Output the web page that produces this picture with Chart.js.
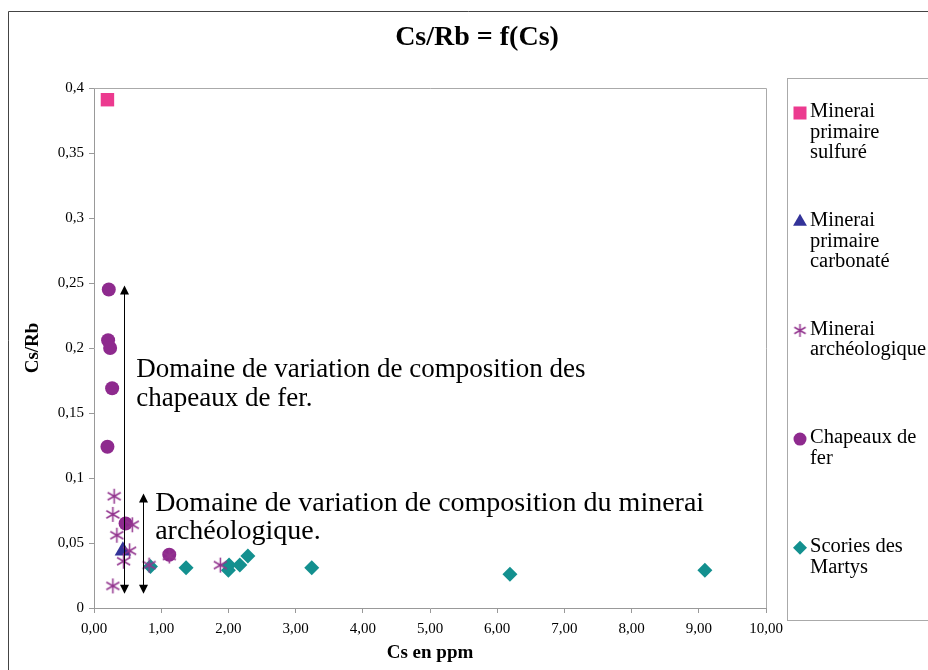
<!DOCTYPE html>
<html>
<head>
<meta charset="utf-8">
<script src="https://cdn.jsdelivr.net/npm/chart.js@4.4.1/dist/chart.umd.min.js"></script>
<style>
html, body { margin: 0; padding: 0; background: #fff; }
canvas { display: block; }
</style>
</head>
<body>
<canvas id="grafico-cs-rb" width="928" height="670"></canvas>
<script>
// valeurs (Cs en ppm, rapport Cs/Rb)
const sulfureCs = [0.20];
const sulfureRatio = [0.391];

const carbonateCs = [0.43];
const carbonateRatio = [0.044];

const archeoCs = [0.30, 0.28, 0.34, 0.57, 0.53, 0.44, 0.28, 0.82, 1.12, 1.88];
const archeoRatio = [0.086, 0.072, 0.056, 0.064, 0.044, 0.036, 0.017, 0.033, 0.040, 0.033];

const chapeauxCs = [0.22, 0.21, 0.24, 0.27, 0.20, 0.47, 1.12];
const chapeauxRatio = [0.245, 0.206, 0.200, 0.169, 0.124, 0.065, 0.041];

const scoriesCs = [0.84, 1.37, 2.01, 2.00, 2.17, 2.29, 3.24, 6.19, 9.09];
const scoriesRatio = [0.032, 0.031, 0.033, 0.029, 0.033, 0.040, 0.031, 0.026, 0.029];

const nomsSeries = [
    ["Minerai", "primaire", "sulfuré"],
    ["Minerai", "primaire", "carbonaté"],
    ["Minerai", "archéologique"],
    ["Chapeaux de", "fer"],
    ["Scories des", "Martys"]
];

// fleches doubles : x, y bas, y haut (unites des axes)
const flecheChapeaux = [0.45, 0.011, 0.248];
const flecheArcheo = [0.73, 0.011, 0.088];

const texteChapeaux = ["Domaine de variation de composition des", "chapeaux de fer."];
const texteArcheo = ["Domaine de variation de composition du minerai", "archéologique."];

const POLICE = "'Liberation Serif', 'Times New Roman', serif";

function enPoints(xs, ys) {
    return xs.map((x, i) => ({ x: x, y: ys[i] }));
}

function virgule(v, dec) {
    return v.toFixed(dec).replace(".", ",");
}

/* marqueur etoile facon Excel (X + trait vertical) */
function creerEtoile(taille, couleur) {
    const c = document.createElement("canvas");
    c.width = taille;
    c.height = taille;
    const ctx = c.getContext("2d");
    const m = taille / 2;
    const r = taille / 2 - 1;
    ctx.strokeStyle = couleur;
    ctx.lineWidth = 1.5;
    ctx.beginPath();
    ctx.moveTo(m, m - r); ctx.lineTo(m, m + r);
    ctx.moveTo(m - r * 0.87, m - r * 0.5); ctx.lineTo(m + r * 0.87, m + r * 0.5);
    ctx.moveTo(m - r * 0.87, m + r * 0.5); ctx.lineTo(m + r * 0.87, m - r * 0.5);
    ctx.stroke();
    return c;
}

const couleurEtoile = "#93358f";
const etoileGrande = creerEtoile(17, couleurEtoile);
const etoilePetite = creerEtoile(15, couleurEtoile);

const series = [
    { label: nomsSeries[0].join(" "), data: enPoints(sulfureCs, sulfureRatio), pointStyle: "rect", pointRadius: 9.5, backgroundColor: "#ec3a8f", order: 5 },
    { label: nomsSeries[1].join(" "), data: enPoints(carbonateCs, carbonateRatio), pointStyle: "triangle", pointRadius: 9.5, backgroundColor: "#333399", order: 4 },
    { label: nomsSeries[2].join(" "), data: enPoints(archeoCs, archeoRatio), pointStyle: etoileGrande, pointRadius: 8, backgroundColor: couleurEtoile, order: 0 },
    { label: nomsSeries[3].join(" "), data: enPoints(chapeauxCs, chapeauxRatio), pointStyle: "circle", pointRadius: 7, backgroundColor: "#8e2a8e", order: 2 },
    { label: nomsSeries[4].join(" "), data: enPoints(scoriesCs, scoriesRatio), pointStyle: "rectRot", pointRadius: 7.5, backgroundColor: "#13908f", order: 1 }
];
series.forEach(s => { s.borderWidth = 0; s.borderColor = s.backgroundColor; s.pointHoverRadius = s.pointRadius; });

/* =========================
   DECOR : cadres, titre, legende, fleches
   ========================= */
function flecheDouble(ctx, x, yHaut, yBas) {
    ctx.strokeStyle = "#000";
    ctx.fillStyle = "#000";
    ctx.lineWidth = 1;
    ctx.beginPath();
    ctx.moveTo(x + 0.5, yHaut + 6);
    ctx.lineTo(x + 0.5, yBas - 6);
    ctx.stroke();
    ctx.beginPath();
    ctx.moveTo(x + 0.5, yHaut);
    ctx.lineTo(x - 4, yHaut + 9);
    ctx.lineTo(x + 5, yHaut + 9);
    ctx.closePath();
    ctx.fill();
    ctx.beginPath();
    ctx.moveTo(x + 0.5, yBas);
    ctx.lineTo(x - 4, yBas - 9);
    ctx.lineTo(x + 5, yBas - 9);
    ctx.closePath();
    ctx.fill();
}

const decor = {
    id: "decor",
    beforeDraw(chart) {
        const ctx = chart.ctx;
        ctx.save();
        ctx.fillStyle = "#fff";
        ctx.fillRect(0, 0, chart.width, chart.height);
        ctx.strokeStyle = "#444";
        ctx.lineWidth = 1;
        ctx.beginPath();
        ctx.moveTo(8.5, chart.height);
        ctx.lineTo(8.5, 11.5);
        ctx.lineTo(chart.width, 11.5);
        ctx.stroke();

        ctx.fillStyle = "#000";
        ctx.font = "bold 28px " + POLICE;
        ctx.textAlign = "center";
        ctx.textBaseline = "middle";
        ctx.fillText("Cs/Rb = f(Cs)", 477, 38);
        ctx.restore();
    },
    afterDatasetsDraw(chart) {
        const ctx = chart.ctx;
        const { x, y } = chart.scales;
        const zone = chart.chartArea;
        ctx.save();

        // bord gris de la zone de tracé
        ctx.strokeStyle = "#aaa";
        ctx.lineWidth = 1;
        ctx.beginPath();
        ctx.moveTo(zone.left, zone.top + 0.5);
        ctx.lineTo(zone.right + 0.5, zone.top + 0.5);
        ctx.lineTo(zone.right + 0.5, zone.bottom);
        ctx.stroke();

        // fleches et textes
        [flecheChapeaux, flecheArcheo].forEach(f => {
            flecheDouble(ctx, Math.round(x.getPixelForValue(f[0])), y.getPixelForValue(f[2]), y.getPixelForValue(f[1]));
        });
        ctx.fillStyle = "#000";
        ctx.textAlign = "left";
        ctx.textBaseline = "middle";
        ctx.font = "27px " + POLICE;
        ctx.fillText(texteChapeaux[0], x.getPixelForValue(0.63), y.getPixelForValue(0.183));
        ctx.fillText(texteChapeaux[1], x.getPixelForValue(0.63), y.getPixelForValue(0.161));
        ctx.font = "28px " + POLICE;
        ctx.fillText(texteArcheo[0], x.getPixelForValue(0.91), y.getPixelForValue(0.080));
        ctx.fillText(texteArcheo[1], x.getPixelForValue(0.91), y.getPixelForValue(0.059));

        // legende
        ctx.strokeStyle = "#aaa";
        ctx.strokeRect(787.5, 78.5, 200, 542);
        const marqueurs = [
            { pointStyle: "rect", radius: 9.2 },
            { pointStyle: "triangle", radius: 8 },
            { pointStyle: etoilePetite, radius: 7 },
            { pointStyle: "circle", radius: 6.5 },
            { pointStyle: "rectRot", radius: 7 }
        ];
        ctx.font = "20.5px " + POLICE;
        nomsSeries.forEach((lignes, i) => {
            const y0 = 112 + i * 108.7;
            const s = chart.data.datasets[i];
            ctx.fillStyle = s.backgroundColor;
            ctx.strokeStyle = s.backgroundColor;
            Chart.helpers.drawPoint(ctx, { pointStyle: marqueurs[i].pointStyle, radius: marqueurs[i].radius, rotation: 0, borderWidth: 0 }, 800, y0 + 1);
            ctx.fillStyle = "#000";
            lignes.forEach((t, k) => ctx.fillText(t, 810, y0 + k * 20.5));
        });
        ctx.restore();
    }
};

new Chart(document.getElementById("grafico-cs-rb").getContext("2d"), {
    type: "scatter",
    data: { datasets: series },
    options: {
        responsive: false,
        devicePixelRatio: 1,
        animation: false,
        events: [],
        layout: { padding: { top: 88, right: 162, left: 0, bottom: 0 } },
        plugins: {
            legend: { display: false },
            title: { display: false },
            tooltip: { enabled: false }
        },
        scales: {
            x: {
                type: "linear",
                min: 0,
                max: 10,
                afterFit: s => { s.height = 62; },
                ticks: {
                    stepSize: 1,
                    padding: 7,
                    color: "#000",
                    font: { family: POLICE, size: 15 },
                    maxRotation: 0,
                    callback: v => virgule(v, 2)
                },
                grid: { drawOnChartArea: false, tickLength: 5, color: "#999" },
                border: { color: "#999" },
                title: {
                    display: true,
                    text: "Cs en ppm",
                    color: "#000",
                    font: { family: POLICE, size: 19, weight: "bold" },
                    padding: { top: 0, bottom: 6 }
                }
            },
            y: {
                type: "linear",
                min: 0,
                max: 0.4,
                afterFit: s => { s.width = 94; },
                ticks: {
                    stepSize: 0.05,
                    padding: 5,
                    color: "#000",
                    font: { family: POLICE, size: 15 },
                    callback: v => v === 0 ? "0" : String(Number(v.toFixed(2))).replace(".", ",")
                },
                grid: { drawOnChartArea: false, tickLength: 5, color: "#999" },
                border: { color: "#999" },
                title: {
                    display: true,
                    text: "Cs/Rb",
                    color: "#000",
                    font: { family: POLICE, size: 19, weight: "bold" },
                    padding: { top: 22, bottom: 0 }
                }
            }
        }
    },
    plugins: [decor]
});
</script>
</body>
</html>
